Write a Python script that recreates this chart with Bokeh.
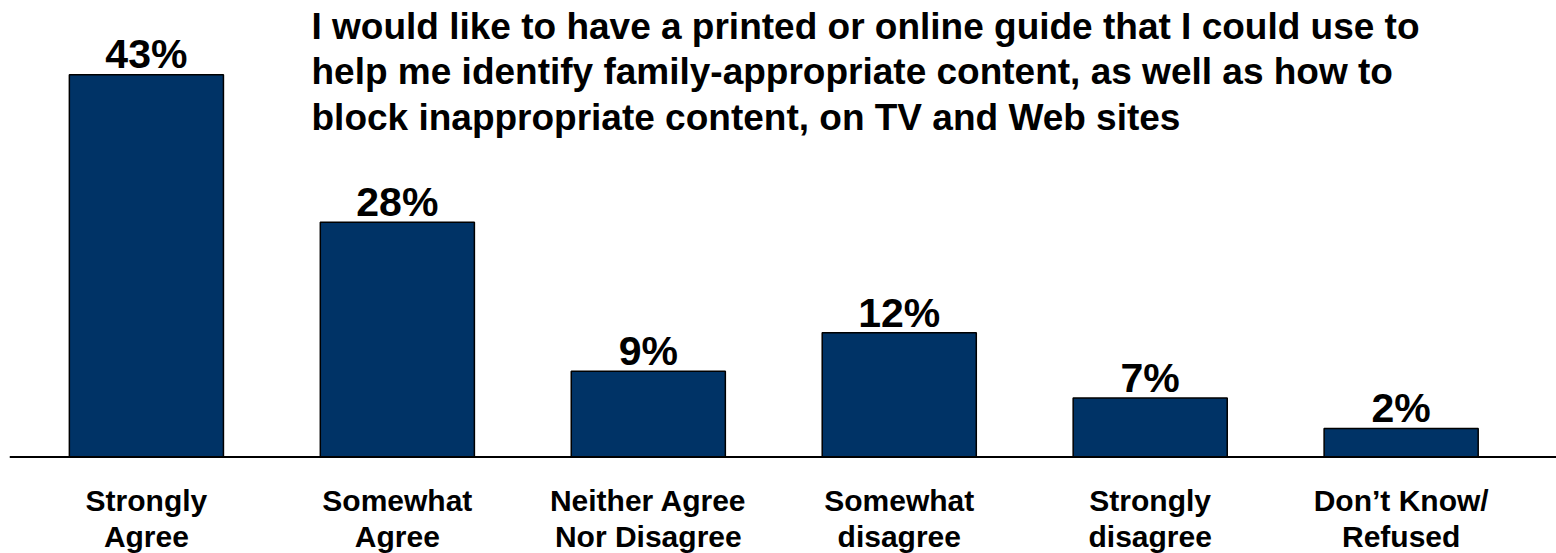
from bokeh.plotting import figure
from bokeh.models import Range1d, Span, Label
from bokeh.core.properties import value
from bokeh.embed import file_html
from bokeh.resources import INLINE

# ---- data ----
categories_line1 = ["Strongly", "Somewhat", "Neither Agree", "Somewhat", "Strongly", "Don\u2019t Know/"]
categories_line2 = ["Agree", "Agree", "Nor Disagree", "disagree", "disagree", "Refused"]
bar_values = [42.8, 26.3, 9.6, 13.9, 6.6, 3.2]          # bar heights as drawn (%)
value_labels = ["43%", "28%", "9%", "12%", "7%", "2%"]  # printed labels
title_lines = [
    "I would like to have a printed or online guide that I could use to",
    "help me identify family-appropriate content, as well as how to",
    "block inappropriate content, on TV and Web sites",
]

# ---- layout ----
W, H = 1556, 553
LEFT = 9                     # frame starts here (page px)
px_x = 250.95                # pixels per category
x0 = -(145.9 - LEFT) / px_x
x1 = x0 + (W - LEFT) / px_x
px_y = 8.93                  # pixels per percent
BASE = 456.5                 # baseline page y
y1 = BASE / px_y
y0 = -(H - BASE) / px_y

def page_x(px):
    return x0 + (px - LEFT) / px_x

def page_y(py):
    return (BASE - py) / px_y

SHIFT = 0.3   # baseline compensation (em)
FONT = value("Liberation Sans")
BAR = "#003366"

p = figure(width=W, height=H, output_backend="svg", toolbar_location=None,
           x_range=Range1d(x0, x1), y_range=Range1d(y0, y1),
           min_border=0, min_border_left=LEFT, min_border_right=0,
           min_border_top=0, min_border_bottom=0,
           x_axis_location=None, y_axis_location=None,
           outline_line_color=None)
p.grid.visible = False

xs = list(range(len(bar_values)))
p.vbar(x=xs, top=bar_values, bottom=0, width=0.614,
       fill_color=BAR, line_color="black", line_width=1.5)

p.add_layout(Span(location=0, dimension="width", line_color="black", line_width=2))

pf = 41
p.text(x=xs, y=bar_values, text=value_labels, text_font=FONT,
       text_font_style="bold", text_font_size=f"{pf}px", text_color="black",
       text_align="center", text_baseline="alphabetic", y_offset=-8 - SHIFT * pf)

cf = 30
p.text(x=xs, y=[0] * len(xs), text=categories_line1, text_font=FONT,
       text_font_style="bold", text_font_size=f"{cf}px", text_color="black",
       text_align="center", text_baseline="alphabetic", y_offset=52 - SHIFT * cf)
p.text(x=xs, y=[0] * len(xs), text=categories_line2, text_font=FONT,
       text_font_style="bold", text_font_size=f"{cf}px", text_color="black",
       text_align="center", text_baseline="alphabetic", y_offset=88.5 - SHIFT * cf)

tf = 37
for i, line in enumerate(title_lines):
    p.add_layout(Label(x=page_x(311), y=page_y(37 + 45.5 * i - SHIFT * tf), text=line,
                       text_font="Liberation Sans", text_font_style="bold",
                       text_font_size=f"{tf}px", text_color="black",
                       text_align="left", text_baseline="alphabetic"))

open("out.html", "w").write(file_html(p, INLINE))
